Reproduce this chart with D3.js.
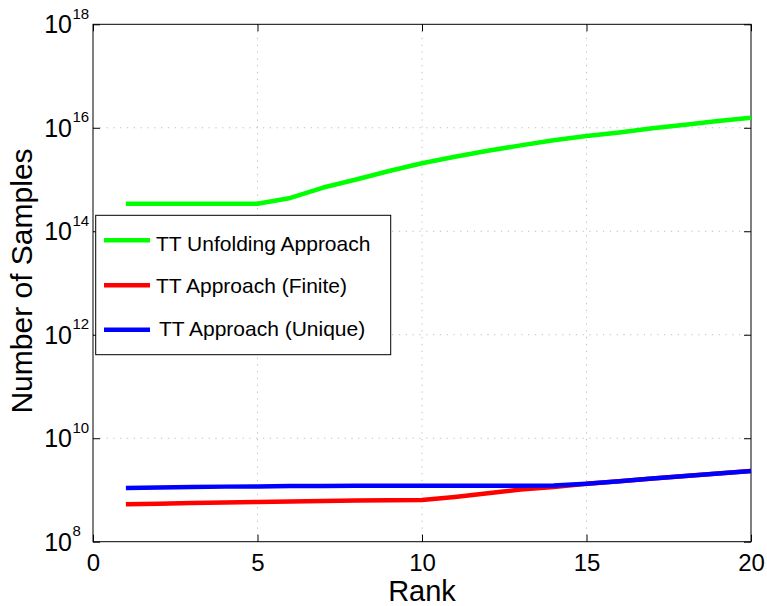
<!DOCTYPE html>
<html>
<head>
<meta charset="utf-8">
<script src="https://cdn.jsdelivr.net/npm/d3@7"></script>
<style>
  body { margin: 0; background: #fff; }
  text { font-family: "Liberation Sans", Arial, Helvetica, sans-serif; fill: #000; }
</style>
</head>
<body>
<div id="chart"></div>
<script>
const rank = [1, 2, 3, 4, 5, 6, 7, 8, 9, 10, 11, 12, 13, 14, 15, 16, 17, 18, 19, 20];
const unfolding = [3.41e14, 3.41e14, 3.41e14, 3.41e14, 3.41e14, 4.40e14, 7.0e14, 1.0e15, 1.46e15, 2.06e15,
                   2.75e15, 3.61e15, 4.57e15, 5.73e15, 6.92e15, 8.13e15, 9.77e15, 1.15e16, 1.35e16, 1.57e16];
const finite = [5.28e8, 5.43e8, 5.57e8, 5.71e8, 5.85e8, 5.98e8, 6.12e8, 6.24e8, 6.31e8, 6.40e8,
                7.31e8, 8.61e8, 1.02e9, 1.14e9, 1.32e9, 1.48e9, 1.66e9, 1.86e9, 2.09e9, 2.32e9];
const unique = [1.09e9, 1.12e9, 1.14e9, 1.16e9, 1.17e9, 1.19e9, 1.19e9, 1.20e9, 1.20e9, 1.21e9,
                1.21e9, 1.21e9, 1.21e9, 1.22e9, 1.32e9, 1.48e9, 1.66e9, 1.86e9, 2.09e9, 2.32e9];
const seriesNames = ["TT Unfolding Approach", "TT Approach (Finite)", "TT Approach (Unique)"];
const seriesColors = ["#00ff00", "#ff0000", "#0000ff"];
const xTicks = [0, 5, 10, 15, 20];
const yExponents = [8, 10, 12, 14, 16, 18];

const w = 767;
const h = 606;
const plotLeft = 93, plotRight = 751, plotTop = 24.3, plotBottom = 541.7;

const xScale = d3.scaleLinear().domain([0, 20]).range([plotLeft, plotRight]);
const yScale = d3.scaleLog().domain([1e8, 1e18]).range([plotBottom, plotTop]);

const svg = d3.select("#chart")
              .append("svg")
              .attr("width", w)
              .attr("height", h);

// dotted grid
svg.append("g")
   .selectAll("line")
   .data(xTicks.slice(1, -1))
   .enter()
   .append("line")
   .attr("x1", (d) => xScale(d)).attr("x2", (d) => xScale(d))
   .attr("y1", plotTop).attr("y2", plotBottom)
   .attr("stroke", "#bbbbbb").attr("stroke-width", 1)
   .attr("stroke-dasharray", "1.2,5.6");

svg.append("g")
   .selectAll("line")
   .data(yExponents.slice(1, -1))
   .enter()
   .append("line")
   .attr("x1", plotLeft).attr("x2", plotRight)
   .attr("y1", (d) => yScale(Math.pow(10, d))).attr("y2", (d) => yScale(Math.pow(10, d)))
   .attr("stroke", "#bbbbbb").attr("stroke-width", 1)
   .attr("stroke-dasharray", "1.2,5.6");

// axes with inward ticks
const yTickVals = yExponents.map((e) => Math.pow(10, e));
const xAxis = d3.axisBottom(xScale).tickValues(xTicks).tickSize(-7).tickPadding(12).tickFormat(d3.format("d"));
const xAxisTop = d3.axisTop(xScale).tickValues(xTicks).tickSize(-7).tickFormat("");
const yAxis = d3.axisLeft(yScale).tickValues(yTickVals).tickSize(-7).tickFormat("");
const yAxisRight = d3.axisRight(yScale).tickValues(yTickVals).tickSize(-7).tickFormat("");

const gx = svg.append("g").attr("transform", "translate(0," + plotBottom + ")").call(xAxis);
gx.selectAll("text").attr("font-size", 24).attr("font-family", "Liberation Sans, Arial, sans-serif");
svg.append("g").attr("transform", "translate(0," + plotTop + ")").call(xAxisTop);
svg.append("g").attr("transform", "translate(" + plotLeft + ",0)").call(yAxis);
svg.append("g").attr("transform", "translate(" + plotRight + ",0)").call(yAxisRight);
svg.selectAll(".domain").remove();
svg.selectAll(".tick line").attr("stroke", "#000");

// y tick labels 10^n
const yLab = svg.append("g")
                .selectAll("g")
                .data(yExponents)
                .enter()
                .append("g")
                .attr("transform", (d) => "translate(72," + yScale(Math.pow(10, d)) + ")");
yLab.append("text")
    .attr("x", 0).attr("y", 9)
    .attr("text-anchor", "end")
    .attr("font-size", 25)
    .text("10");
yLab.append("text")
    .attr("x", 0.5).attr("y", -5.5)
    .attr("text-anchor", "start")
    .attr("font-size", 15)
    .text((d) => d);

// frame
svg.append("rect")
   .attr("x", plotLeft).attr("y", plotTop)
   .attr("width", plotRight - plotLeft).attr("height", plotBottom - plotTop)
   .attr("fill", "none").attr("stroke", "#000").attr("stroke-width", 1);

// lines
const allSeries = [unfolding, finite, unique];
const line = d3.line()
               .x((d, i) => xScale(rank[i]))
               .y((d) => yScale(d));

svg.append("g")
   .selectAll("path")
   .data(allSeries)
   .enter()
   .append("path")
   .attr("d", (d) => line(d))
   .attr("fill", "none")
   .attr("stroke", (d, i) => seriesColors[i])
   .attr("stroke-width", 4.5)
   .attr("stroke-linejoin", "round");

// axis titles
svg.append("text")
   .attr("x", (plotLeft + plotRight) / 2).attr("y", 601)
   .attr("text-anchor", "middle")
   .attr("font-size", 29)
   .text("Rank");

svg.append("text")
   .attr("transform", "translate(32," + 281 + ") rotate(-90)")
   .attr("text-anchor", "middle")
   .attr("font-size", 30)
   .text("Number of Samples");

// legend
const legend = svg.append("g");
legend.append("rect")
      .attr("x", 95.7).attr("y", 215.3)
      .attr("width", 295).attr("height", 139.4)
      .attr("fill", "#fff").attr("stroke", "#000").attr("stroke-width", 1);

const legendLineY = [240.3, 285.3, 329.7];
const legendTextY = [251, 292.5, 336];
const legendTextX = [156, 156, 159];

legend.selectAll("line")
      .data(seriesNames)
      .enter()
      .append("line")
      .attr("x1", 104).attr("x2", 150)
      .attr("y1", (d, i) => legendLineY[i]).attr("y2", (d, i) => legendLineY[i])
      .attr("stroke", (d, i) => seriesColors[i])
      .attr("stroke-width", 4.5);

legend.selectAll("text")
      .data(seriesNames)
      .enter()
      .append("text")
      .attr("x", (d, i) => legendTextX[i])
      .attr("y", (d, i) => legendTextY[i])
      .attr("font-size", 21)
      .text((d) => d);
</script>
</body>
</html>
